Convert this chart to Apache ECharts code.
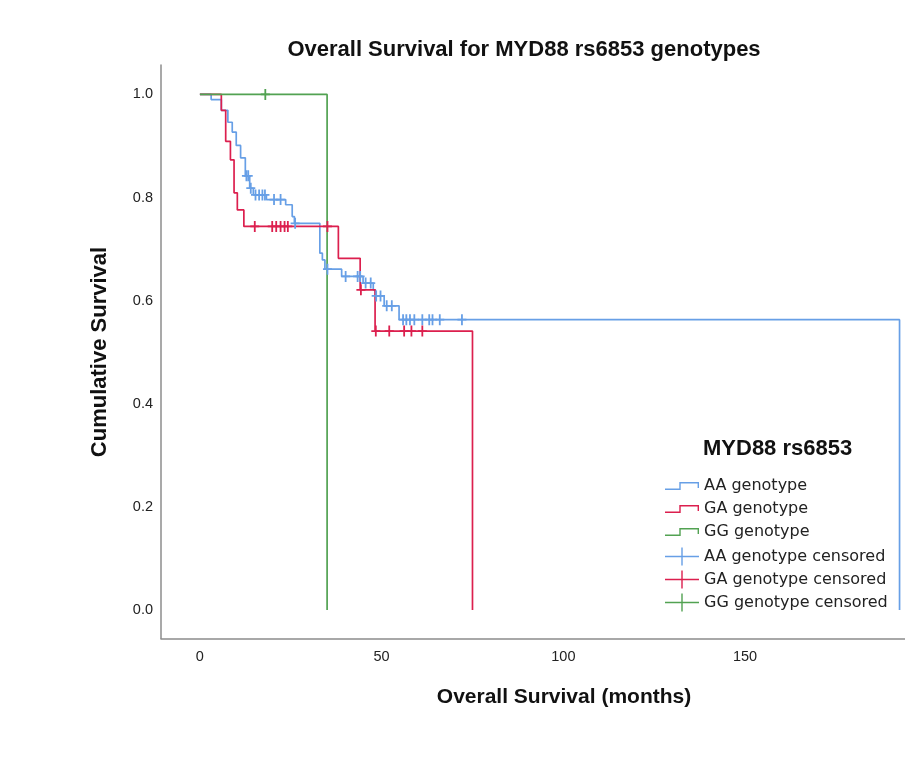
<!DOCTYPE html>
<html>
<head>
    <meta charset="utf-8">
    <title>Overall Survival</title>
    <script src="https://cdn.jsdelivr.net/npm/echarts@6/dist/echarts.min.js"></script>
    <style>
        html, body { margin: 0; padding: 0; background: #fff; }
    </style>
</head>
<body>
    <div id="main" style="width: 905px;height:781px;"></div>
<script type="text/javascript">
    // axis labels
    var xTicks = [0, 50, 100, 150];
    var yTicks = [0, 0.2, 0.4, 0.6, 0.8, 1.0];

    // Kaplan-Meier steps: [time, survival after the drop]
    var aaSteps = [[0, 1], [3.1, 0.99], [5.9, 0.969], [7.7, 0.946], [8.9, 0.927], [10.0, 0.901],
        [11.2, 0.877], [12.5, 0.842], [13.7, 0.818], [14.7, 0.805], [18.3, 0.796], [23.6, 0.786],
        [25.4, 0.763], [26.0, 0.75], [33.0, 0.692], [33.7, 0.679], [34.4, 0.661], [39.0, 0.647],
        [44.9, 0.634], [47.7, 0.621], [48.3, 0.609], [50.7, 0.59], [54.8, 0.563], [192.5, 0]];
    var gaSteps = [[0, 1], [5.9, 0.969], [7.1, 0.909], [8.4, 0.873], [9.4, 0.809], [10.3, 0.776],
        [12.1, 0.744], [38.1, 0.682], [44.1, 0.621], [48.2, 0.541], [75.0, 0]];
    var ggSteps = [[0, 1], [35.0, 0]];

    // censored times
    var aaCensor = [12.8, 13.3, 14.0, 15.3, 16.3, 17.2, 17.9, 20.4, 22.2, 26.2, 35.1, 40.1, 43.4, 44.1,
        45.6, 47.0, 48.5, 49.7, 51.4, 52.8, 55.9, 56.8, 57.8, 59.0, 61.2, 63.1, 64.0, 66.0, 72.1];
    var gaCensor = [15.1, 19.9, 21.0, 22.2, 23.3, 24.2, 35.1, 44.3, 48.4, 52.1, 56.2, 58.2, 61.2];
    var ggCensor = [18.0];

    var groupNames = ['AA genotype', 'GA genotype', 'GG genotype'];

    var colors = ['#679fe6', '#dc1f4e', '#52a252'];

    // survival value at time t, read from the step list
    function survAt(steps, t) {
        var v = steps[0][1];
        for (var i = 0; i < steps.length; i++) {
            if (steps[i][0] <= t) v = steps[i][1];
        }
        return v;
    }
    function censorPoints(steps, times) {
        return times.map(function (t) { return [t, survAt(steps, t)]; });
    }

    var plusSymbol = 'path://M3.2,0H4.8V4.2H8V5.8H4.8V10H3.2V5.8H0V4.2H3.2Z';
    var stepIcon = 'path://M0,6.6L14.3,6.6L14.3,0L34,0L34,6L32.6,6L32.6,1.4L15.7,1.4L15.7,8L0,8Z';
    var plusIcon = 'path://M0,8.3L16.3,8.3L16.3,0L17.7,0L17.7,8.3L34,8.3L34,9.7L17.7,9.7L17.7,18L16.3,18L16.3,9.7L0,9.7Z';

    var allSteps = [aaSteps, gaSteps, ggSteps];
    var allCensor = [aaCensor, gaCensor, ggCensor];

    var series = [];
    groupNames.forEach(function (name, i) {
        series.push({
            name: name,
            type: 'line',
            step: 'end',
            data: allSteps[i],
            symbol: 'none',
            color: colors[i],
            lineStyle: { width: 1.7, color: colors[i] },
            z: 2 + i
        });
    });
    groupNames.forEach(function (name, i) {
        series.push({
            name: name + ' censored',
            type: 'scatter',
            data: censorPoints(allSteps[i], allCensor[i]),
            symbol: plusSymbol,
            symbolSize: [9, 11],
            color: colors[i],
            itemStyle: { color: colors[i], opacity: 1 },
            z: 5 + i
        });
    });

    var textFont = '"Liberation Sans", Arial, sans-serif';

    var myChart = echarts.init(document.getElementById('main'));
    var option = {
        animation: false,
        backgroundColor: '#fff',
        grid: { left: 161, top: 65, right: 0, bottom: 142.5, containLabel: false },
        xAxis: {
            type: 'value',
            min: -10.7,
            max: 194,
            splitLine: { show: false },
            axisTick: { show: false },
            axisLine: { onZero: false, lineStyle: { color: '#8c8c8c', width: 1.5 } },
            axisLabel: {
                customValues: xTicks,
                margin: 11,
                color: '#222',
                fontFamily: textFont,
                fontSize: 14.5
            }
        },
        yAxis: {
            type: 'value',
            min: -0.0553,
            max: 1.057,
            splitLine: { show: false },
            axisTick: { show: false },
            axisLine: { show: true, onZero: false, lineStyle: { color: '#8c8c8c', width: 1.5 } },
            axisLabel: {
                customValues: yTicks,
                margin: 8,
                color: '#222',
                fontFamily: textFont,
                fontSize: 14.5,
                formatter: function (v) { return v.toFixed(1); }
            }
        },
        legend: [{
            orient: 'vertical',
            left: 665,
            top: 474.5,
            padding: 0,
            itemGap: 0,
            itemWidth: 34,
            itemHeight: 8,
            itemStyle: { borderWidth: 0 },
            textStyle: { fontFamily: '"DejaVu Sans", sans-serif', fontSize: 16, color: '#222', lineHeight: 23 },
            data: groupNames.map(function (n) { return { name: n, icon: stepIcon }; })
        }, {
            orient: 'vertical',
            left: 665,
            top: 545,
            padding: 0,
            itemGap: 0,
            itemWidth: 34,
            itemHeight: 18,
            itemStyle: { borderWidth: 0, opacity: 1 },
            textStyle: { fontFamily: '"DejaVu Sans", sans-serif', fontSize: 16, color: '#222', lineHeight: 23 },
            data: groupNames.map(function (n) { return { name: n + ' censored', icon: plusIcon }; })
        }],
        graphic: [{
            type: 'text', x: 524, y: 50,
            style: { text: 'Overall Survival for MYD88 rs6853 genotypes', font: 'bold 22px ' + textFont, fill: '#111', align: 'center', verticalAlign: 'middle' }
        }, {
            type: 'text', x: 564, y: 697,
            style: { text: 'Overall Survival (months)', font: 'bold 21px ' + textFont, fill: '#111', align: 'center', verticalAlign: 'middle' }
        }, {
            type: 'text', x: 100, y: 352, rotation: Math.PI / 2,
            style: { text: 'Cumulative Survival', font: 'bold 22px ' + textFont, fill: '#111', align: 'center', verticalAlign: 'middle' }
        }, {
            type: 'text', x: 703, y: 449,
            style: { text: 'MYD88 rs6853', font: 'bold 22px ' + textFont, fill: '#111', align: 'left', verticalAlign: 'middle' }
        }],
        series: series
    };
    myChart.setOption(option);
</script>
</body>
</html>
